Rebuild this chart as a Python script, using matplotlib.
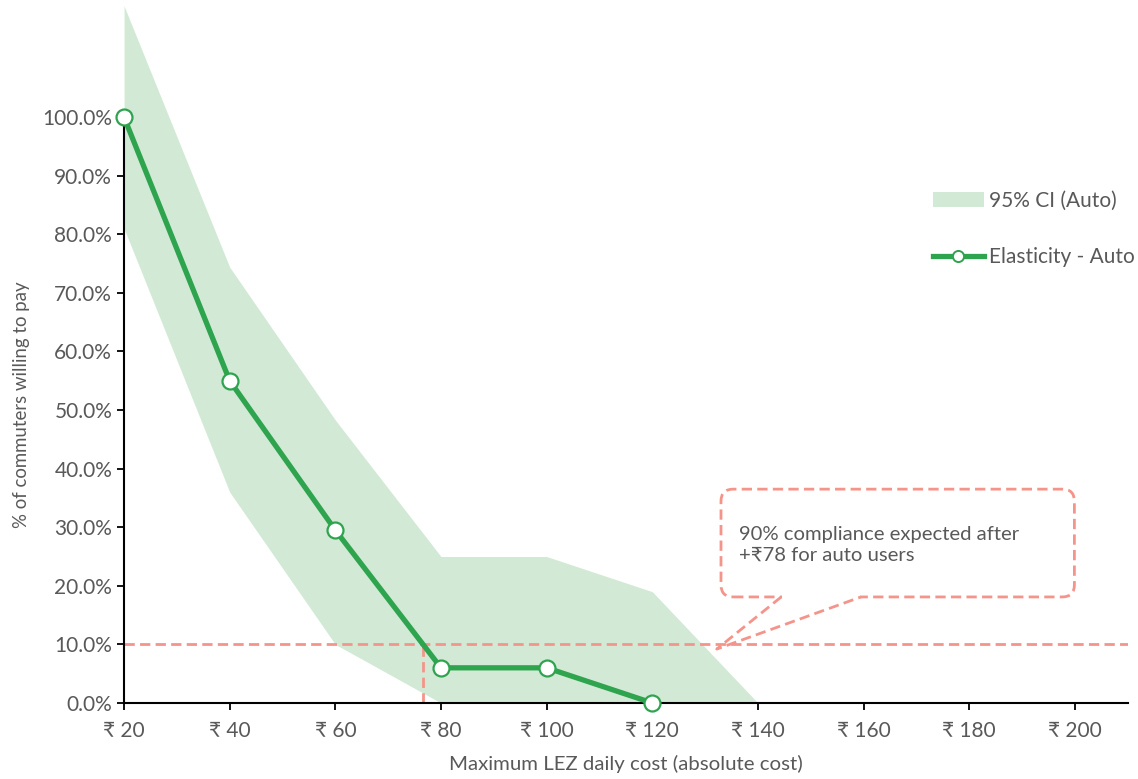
import matplotlib
matplotlib.use("Agg")
import matplotlib.pyplot as plt
from matplotlib.patches import FancyBboxPatch, Patch
from matplotlib.lines import Line2D
import numpy as np

plt.rcParams['font.family'] = ['Lato', 'DejaVu Sans']

cost = [20, 40, 60, 80, 100, 120]
share = [100.0, 55.0, 29.5, 6.0, 6.0, 0.0]

ci_cost = [20, 40, 60, 80, 100, 120, 140]
ci_upper = [119.0, 74.4, 48.3, 25.0, 25.0, 19.0, 0.0]
ci_lower = [81.0, 36.0, 10.0, 0.0, 0.0, 0.0, 0.0]

xticks = [20, 40, 60, 80, 100, 120, 140, 160, 180, 200]
yticks = [0, 10, 20, 30, 40, 50, 60, 70, 80, 90, 100]
threshold = 10.0
note = "90% compliance expected after\n+₹78 for auto users"

green = "#2ea44f"
ci_col = "#d2ead5"
salmon = "#f4948a"
txt = "#595959"

fig = plt.figure(figsize=(11.38, 7.79), dpi=100)
ax = fig.add_axes([0.109, 0.0976, 0.882, 0.9024])

ax.fill_between(ci_cost, ci_lower, ci_upper, color=ci_col, lw=0, zorder=1)

# where the curve drops below the threshold
xs = np.interp(threshold, share[::-1], cost[::-1])

dash = (0, (3.7, 1.9))
ax.plot([20, 210], [threshold, threshold], color=salmon, lw=2, ls=dash, zorder=2)
ax.plot([xs, xs], [0, threshold], color=salmon, lw=2, ls=dash, zorder=2)

ax.plot(cost, share, color=green, lw=3.8, marker="o", ms=11.5,
        mfc="white", mec=green, mew=1.6, zorder=4, clip_on=False)

# callout
box = FancyBboxPatch((133.0, 18.1), 66.9, 18.4,
                     boxstyle="round,pad=0,rounding_size=2.3",
                     mutation_aspect=0.9, fill=False, ec=salmon, lw=2,
                     ls=dash, zorder=3)
ax.add_patch(box)
ax.plot([144.6, 159.4], [18.1, 18.1], color="white", lw=4, zorder=3.5,
        solid_capstyle="butt")
ax.plot([144.4, 132.2, 159.5], [18.1, 9.2, 18.1], color=salmon, lw=2,
        ls=dash, zorder=3.6)
ax.text(136.4, 27.0, note, fontsize=14.6, color=txt, va="center", ha="left",
        linespacing=1.22, zorder=5)

ax.set_xlim(20, 210)
ax.set_ylim(0, 120)
ax.set_xticks(xticks)
ax.set_xticklabels(["₹ %d" % v for v in xticks])
ax.set_yticks(yticks)
ax.set_yticklabels(["%.1f%%" % v for v in yticks])
ax.tick_params(axis="both", colors="black", labelcolor=txt, labelsize=15,
               length=5, width=1.3, direction="out")
ax.tick_params(axis="x", pad=8)
for s in ["top", "right"]:
    ax.spines[s].set_visible(False)
for s in ["left", "bottom"]:
    ax.spines[s].set_linewidth(1.5)
ax.spines["left"].set_bounds(0, 100)

ax.set_xlabel("Maximum LEZ daily cost (absolute cost)", fontsize=14.7,
              color=txt, labelpad=10)
ax.set_ylabel("% of commuters willing to pay", fontsize=13.4, color=txt)
ax.yaxis.set_label_coords(-0.094, 51 / 120)

handles = [Patch(color=ci_col, lw=0),
           Line2D([], [], color=green, lw=3.8, marker="o", ms=8,
                  mfc="white", mec=green, mew=1.4)]
leg = fig.legend(handles, ["95% CI (Auto)", "Elasticity - Auto"],
                 loc="upper left", bbox_to_anchor=(0.803, 0.779),
                 frameon=False, fontsize=15, labelcolor=txt,
                 handlelength=2.45, handletextpad=0.25, labelspacing=1.75)

fig.savefig("out.png", dpi=100)
